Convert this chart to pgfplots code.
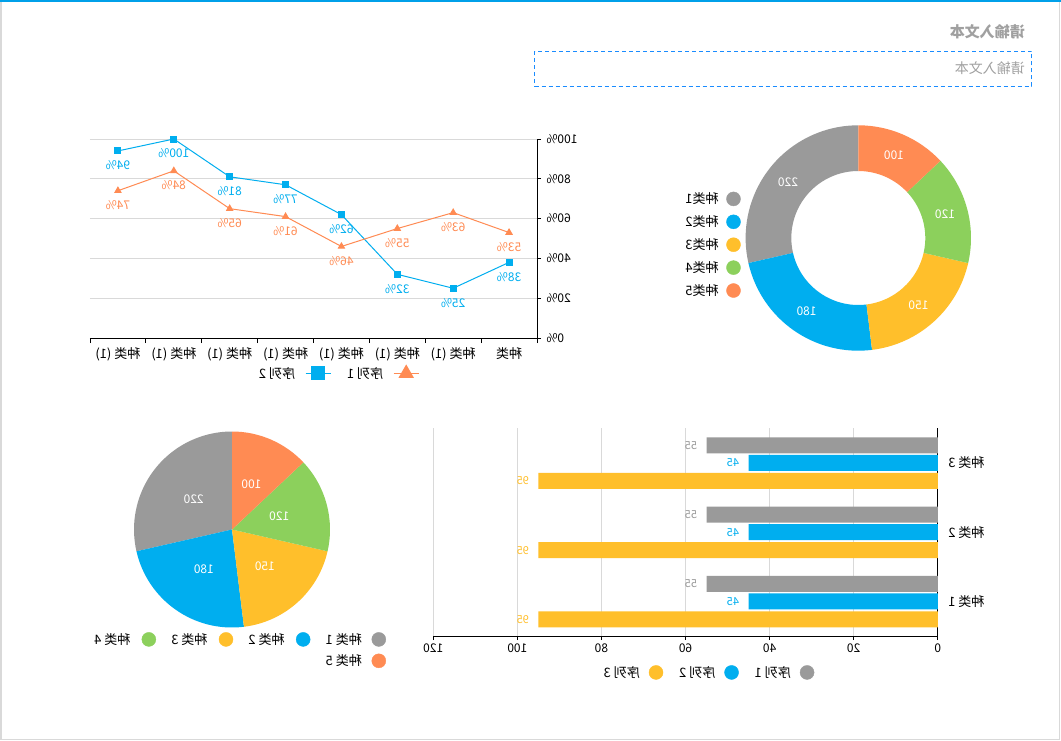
\documentclass[border=0pt]{standalone}
\usepackage{fontspec}
\setmainfont{Noto Sans CJK SC}
\usepackage{graphicx}
\usepackage{pgfplots}
\pgfplotsset{compat=1.18}
\pgfkeys{/pgf/number format/assume math mode=true}
\definecolor{cgray}{HTML}{9A9A9A}
\definecolor{cblue}{HTML}{00AEEF}
\definecolor{cyellow}{HTML}{FFBF2B}
\definecolor{cgreen}{HTML}{8CD05C}
\definecolor{corange}{HTML}{FF8B53}
\definecolor{gridc}{HTML}{D9D9D9}
\definecolor{topblue}{HTML}{00A0E9}
\definecolor{dashblue}{HTML}{1A8CFF}
\definecolor{hdr}{HTML}{A0A0A0}
\newcommand{\rf}[1]{\reflectbox{#1}}
\newcommand{\fs}[1]{\fontsize{#1}{#1}\selectfont}
\begin{document}
\begin{tikzpicture}
\useasboundingbox (0,0) rectangle (1061pt,-741pt);
\fill[white] (0,0) rectangle (1061pt,-741pt);
\draw[gridc, line width=1.5pt] (0.75pt,-0.75pt) rectangle (1059.5pt,-739.5pt);
\draw[topblue, line width=2pt] (0,-1pt) -- (1061pt,-1pt);
\node[anchor=east, inner sep=0pt, text=hdr, font=\fs{15}\bfseries] at (1025pt,-32pt) {\rf{请输入文本}};
\draw[dashblue, dash pattern=on 4pt off 3pt, line width=1pt] (534.5pt,-51.5pt) rectangle (1031.5pt,-86.5pt);
\node[anchor=east, inner sep=0pt, text=hdr, font=\fs{14}] at (1025pt,-68pt) {\rf{请输入文本}};

% ---------- line chart ----------
\begin{axis}[at={(90pt,-338pt)}, anchor=south west, scale only axis,
  width=447pt, height=199pt,
  xmin=-0.5, xmax=7.5, ymin=0, ymax=100,
  axis x line*=bottom, axis y line*=right,
  axis line style={black, line width=0.8pt},
  xtick={0,...,7},
  xticklabels={\rf{种类 (1)},\rf{种类 (1)},\rf{种类 (1)},\rf{种类 (1)},\rf{种类 (1)},\rf{种类 (1)},\rf{种类 (1)},\rf{种类}},
  major x tick style={draw=none},
  minor xtick={-0.5,0.5,...,7.5},
  minor x tick style={black, line width=0.8pt},
  ytick={0,20,...,100},
  yticklabels={\rf{0\%},\rf{20\%},\rf{40\%},\rf{60\%},\rf{80\%},\rf{100\%}},
  ytick style={black, line width=0.8pt},
  tick align=outside, major tick length=4pt, minor tick length=5pt,
  ymajorgrids, grid style={gridc, line width=0.8pt},
  ticklabel style={font=\fs{12}},
  xticklabel style={font=\fs{13}, yshift=-2pt},
  yticklabel style={xshift=2pt},
  legend plot pos=right,
  legend columns=2,
  legend style={at={(0.555,0)}, anchor=north, yshift=-25pt, draw=none, fill=none, font=\fs{13},
    /tikz/every odd column/.append style={column sep=8pt},
    /tikz/every even column/.append style={column sep=14pt}},
  legend image code/.code={\draw[mark repeat=2,mark phase=2,#1] plot coordinates {(0pt,0pt)(12.5pt,0pt)(25pt,0pt)};},
  nodes near coords={\rf{\pgfmathprintnumber{\pgfplotspointmeta}\%}},
]
\addplot[forget plot, cblue, line width=1pt, mark=square*, mark size=3pt,
  every node near coord/.append style={text=cblue, font=\fs{12}, anchor=center, yshift=-14.5pt}]
  coordinates {(0,94)(1,100)(2,81)(3,77)(4,62)(5,32)(6,25)(7,38)};
\addplot[forget plot, corange, line width=1pt, mark=triangle*, mark size=3.5pt,
  every node near coord/.append style={text=corange, font=\fs{12}, anchor=center, yshift=-14.5pt}]
  coordinates {(0,74)(1,84)(2,65)(3,61)(4,46)(5,55)(6,63)(7,53)};
\addlegendimage{cblue, line width=1pt, mark=square*, mark size=6.5pt}
\addlegendentry{\rf{序列 2}}
\addlegendimage{corange, line width=1pt, mark=triangle*, mark size=8pt}
\addlegendentry{\rf{序列 1}}
\end{axis}

% ---------- donut ----------
\begin{axis}[at={(858.3pt,-238pt)}, anchor=center, scale only axis,
  width=240pt, height=240pt, hide axis,
  xmin=-120, xmax=120, ymin=-120, ymax=120,
  legend plot pos=right, legend cell align=right,
  legend style={at={(0.01,0.472)}, anchor=east, draw=none, fill=none, font=\fs{13},
    inner sep=0pt, row sep=6.5pt,
    /tikz/every odd column/.append style={column sep=6pt}},
]
\addlegendimage{only marks, mark=*, mark size=7pt, cgray}\addlegendentry{\rf{种类1}}
\addlegendimage{only marks, mark=*, mark size=7pt, cblue}\addlegendentry{\rf{种类2}}
\addlegendimage{only marks, mark=*, mark size=7pt, cyellow}\addlegendentry{\rf{种类3}}
\addlegendimage{only marks, mark=*, mark size=7pt, cgreen}\addlegendentry{\rf{种类4}}
\addlegendimage{only marks, mark=*, mark size=7pt, corange}\addlegendentry{\rf{种类5}}
\pgfplotsextra{
  \begin{scope}[shift={(axis cs:0,0)}]
  \xdef\angA{90}
  \foreach \v/\c in {220/cgray,180/cblue,150/cyellow,120/cgreen,100/corange}{
    \pgfmathsetmacro\angB{\angA+\v/770*360}
    \pgfmathsetmacro\angM{(\angA+\angB)/2}
    \fill[\c] (\angA:112.7pt) arc[start angle=\angA, end angle=\angB, radius=112.7pt]
       -- (\angB:67pt) arc[start angle=\angB, end angle=\angA, radius=67pt] -- cycle;
    \node[text=white, font=\fs{12}] at (\angM:89.9pt) {\rf{\v}};
    \xdef\angA{\angB}
  }
  \end{scope}
}
\end{axis}

% ---------- pie ----------
\begin{axis}[at={(232pt,-529.5pt)}, anchor=center, scale only axis,
  width=220pt, height=220pt, hide axis,
  xmin=-110, xmax=110, ymin=-110, ymax=110,
  legend plot pos=right, legend columns=4, legend cell align=right,
  legend style={at={(1.2,0.0386)}, anchor=north east, draw=none, fill=none, font=\fs{13},
    inner sep=0pt, row sep=5pt,
    /tikz/every odd column/.append style={column sep=8pt},
    /tikz/every even column/.append style={column sep=13.5pt}},
]
\addlegendimage{only marks, mark=*, mark size=7pt, cgreen}\addlegendentry{\rf{种类 4}}
\addlegendimage{only marks, mark=*, mark size=7pt, cyellow}\addlegendentry{\rf{种类 3}}
\addlegendimage{only marks, mark=*, mark size=7pt, cblue}\addlegendentry{\rf{种类 2}}
\addlegendimage{only marks, mark=*, mark size=7pt, cgray}\addlegendentry{\rf{种类 1}}
\addlegendimage{empty legend}\addlegendentry{}
\addlegendimage{empty legend}\addlegendentry{}
\addlegendimage{empty legend}\addlegendentry{}
\addlegendimage{only marks, mark=*, mark size=7pt, corange}\addlegendentry{\rf{种类 5}}
\pgfplotsextra{
  \begin{scope}[shift={(axis cs:0,0)}]
  \xdef\angA{90}
  \foreach \v/\c in {220/cgray,180/cblue,150/cyellow,120/cgreen,100/corange}{
    \pgfmathsetmacro\angB{\angA+\v/770*360}
    \pgfmathsetmacro\angM{(\angA+\angB)/2}
    \fill[\c] (0pt,0pt) -- (\angA:98pt) arc[start angle=\angA, end angle=\angB, radius=98pt] -- cycle;
    \node[text=white, font=\fs{12}] at (\angM:49pt) {\rf{\v}};
    \xdef\angA{\angB}
  }
  \end{scope}
}
\end{axis}

% ---------- bar chart ----------
\begin{axis}[at={(433.3pt,-636pt)}, anchor=south west, scale only axis,
  width=504.5pt, height=207.7pt,
  xbar, x dir=reverse, xmin=0, xmax=120, ymin=0.5, ymax=3.5,
  axis x line*=bottom, axis y line*=right,
  axis line style={black, line width=0.8pt},
  xtick={0,20,...,120},
  xticklabels={\rf{0},\rf{20},\rf{40},\rf{60},\rf{80},\rf{100},\rf{120}},
  xtick style={black, line width=0.8pt},
  tick align=outside, major tick length=4pt,
  xmajorgrids, grid style={gridc, line width=0.8pt},
  ytick={1,2,3},
  yticklabels={\rf{种类 1},\rf{种类 2},\rf{种类 3}},
  ytick style={draw=none},
  xticklabel style={font=\fs{12}},
  yticklabel style={font=\fs{13}, xshift=3pt},
  bar width=16pt,
  nodes near coords={\rf{\pgfmathprintnumber{\pgfplotspointmeta}}},
  nodes near coords align={left},
  legend plot pos=right, legend columns=3,
  legend style={at={(0.5445,0)}, anchor=north, yshift=-26pt, draw=none, fill=none, font=\fs{13},
    /tikz/every odd column/.append style={column sep=7pt},
    /tikz/every even column/.append style={column sep=14pt}},
]
\addplot[forget plot, fill=cgray, draw=none, bar shift=17.5pt,
  every node near coord/.append style={text=cgray, font=\fs{11}, xshift=-6pt}]
  coordinates {(55,1)(55,2)(55,3)};
\addplot[forget plot, fill=cblue, draw=none, bar shift=0pt,
  every node near coord/.append style={text=cblue, font=\fs{11}, xshift=-6pt}]
  coordinates {(45,1)(45,2)(45,3)};
\addplot[forget plot, fill=cyellow, draw=none, bar shift=-18pt,
  every node near coord/.append style={text=cyellow, font=\fs{11}, xshift=-6pt}]
  coordinates {(95,1)(95,2)(95,3)};
\addlegendimage{legend image code/.code={\fill[cyellow] (7pt,0pt) circle (7pt);}}\addlegendentry{\rf{序列 3}}
\addlegendimage{legend image code/.code={\fill[cblue] (7pt,0pt) circle (7pt);}}\addlegendentry{\rf{序列 2}}
\addlegendimage{legend image code/.code={\fill[cgray] (7pt,0pt) circle (7pt);}}\addlegendentry{\rf{序列 1}}
\end{axis}
\end{tikzpicture}
\end{document}
